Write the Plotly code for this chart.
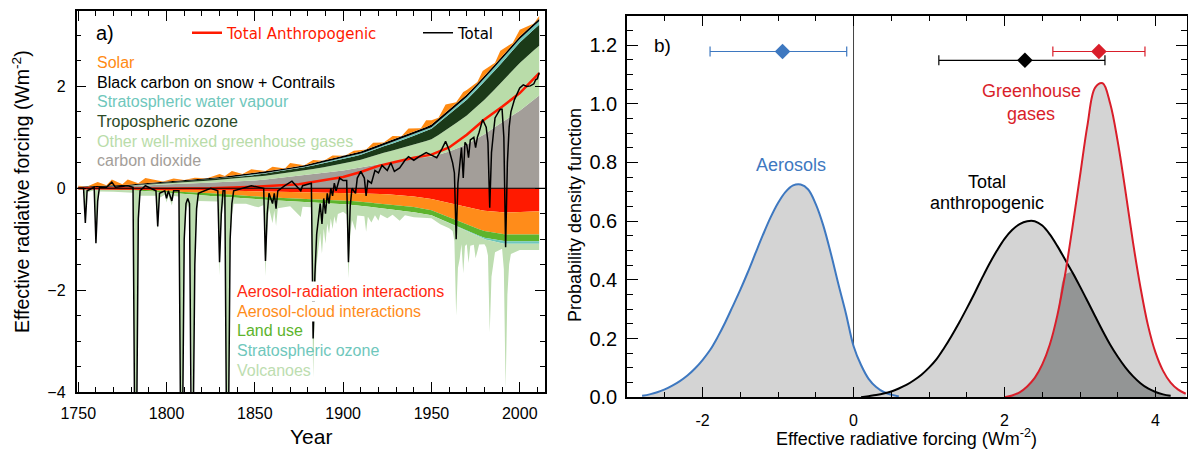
import plotly.graph_objects as go

W, H = 1188, 449

# ---------------- Panel a) data ----------------
years = [1750, 1775, 1800, 1825, 1850, 1875, 1900, 1910, 1920, 1930, 1940, 1950,
         1960, 1970, 1980, 1990, 2000, 2011]
co2 = [0.00, 0.03, 0.08, 0.11, 0.15, 0.24, 0.35, 0.41, 0.47, 0.53, 0.59, 0.62,
       0.72, 0.86, 1.06, 1.30, 1.52, 1.82]
other_ghg = [0.005, 0.005, 0.02, 0.04, 0.07, 0.09, 0.13, 0.15, 0.20, 0.23, 0.27, 0.34,
             0.46, 0.57, 0.68, 0.79, 0.94, 0.98]
trop_o3 = [0.005, 0.005, 0.01, 0.02, 0.04, 0.06, 0.09, 0.10, 0.12, 0.14, 0.17, 0.21,
           0.27, 0.31, 0.35, 0.38, 0.40, 0.41]
strat_h2o = [0.0, 0.0, 0.01, 0.01, 0.01, 0.01, 0.02, 0.02, 0.02, 0.03, 0.03, 0.03,
             0.04, 0.05, 0.06, 0.07, 0.07, 0.07]
bc_contrails = [0.02, 0.02, 0.02, 0.02, 0.03, 0.03, 0.04, 0.04, 0.04, 0.04, 0.04, 0.05,
                0.05, 0.05, 0.05, 0.05, 0.05, 0.05]
aer_rad = [0.0, -0.005, -0.02, -0.04, -0.07, -0.09, -0.10, -0.10, -0.11, -0.13, -0.16, -0.21,
           -0.29, -0.38, -0.44, -0.48, -0.46, -0.45]
aer_cloud = [0.0, -0.01, -0.03, -0.06, -0.10, -0.11, -0.14, -0.16, -0.19, -0.20, -0.21, -0.22,
             -0.28, -0.34, -0.40, -0.43, -0.45, -0.46]
land_use = [0.0, -0.01, -0.03, -0.05, -0.05, -0.06, -0.07, -0.08, -0.09, -0.10, -0.10, -0.10,
            -0.11, -0.12, -0.13, -0.13, -0.13, -0.13]
strat_o3 = [0.0, 0.0, 0.0, 0.0, 0.0, 0.0, 0.0, 0.0, 0.0, 0.0, 0.0, 0.0,
            -0.005, -0.01, -0.03, -0.05, -0.05, -0.05]
total_anthro = [0.0, -0.01, -0.01, 0.0, 0.03, 0.08, 0.22, 0.32, 0.44, 0.52, 0.60, 0.66,
                0.80, 1.05, 1.35, 1.60, 1.87, 2.26]

solar_years = [1750, 1755, 1761, 1766, 1769, 1775, 1778, 1784, 1788, 1798, 1804, 1810,
               1816, 1823, 1830, 1833, 1837, 1843, 1848, 1856, 1860, 1867, 1870, 1878,
               1883, 1889, 1894, 1901, 1906, 1913, 1917, 1923, 1928, 1933, 1937, 1944,
               1947, 1954, 1958, 1964, 1968, 1976, 1979, 1986, 1989, 1996, 2000, 2008, 2011]
solar = [0.02, 0.0, 0.08, 0.01, 0.12, 0.02, 0.10, 0.01, 0.10, 0.0, 0.04, 0.0,
         0.03, 0.0, 0.06, 0.01, 0.09, 0.01, 0.08, 0.01, 0.07, 0.0, 0.09, 0.0,
         0.06, 0.0, 0.06, 0.0, 0.05, 0.0, 0.08, 0.01, 0.08, 0.01, 0.11, 0.02,
         0.13, 0.02, 0.16, 0.03, 0.11, 0.03, 0.14, 0.03, 0.15, 0.03, 0.13, 0.0, 0.05]

volc_years = [1750, 1753, 1754, 1755, 1759, 1760, 1761, 1762, 1770, 1781, 1782, 1783, 1784, 1785,
              1794, 1795, 1796, 1799, 1800, 1801, 1803, 1804, 1807, 1808, 1809, 1810, 1811,
              1812, 1813, 1814, 1815, 1816, 1817, 1818, 1829, 1830, 1831, 1832, 1833, 1834,
              1835, 1836, 1837, 1838, 1845, 1852, 1855, 1856, 1857, 1858, 1860, 1861, 1862,
              1863, 1870, 1876, 1877, 1882, 1883, 1884, 1885, 1886, 1887, 1888, 1889, 1890,
              1891, 1892, 1893, 1894, 1895, 1896, 1897, 1900, 1902, 1903, 1904, 1905, 1907,
              1908, 1912, 1913, 1914, 1916, 1918, 1920, 1921, 1925, 1928, 1932, 1935, 1940,
              1950, 1955, 1960, 1962, 1963, 1964, 1965, 1966, 1967, 1968, 1969, 1970, 1971,
              1972, 1974, 1975, 1976, 1977, 1980, 1981, 1982, 1983, 1984, 1985, 1986, 1990,
              1991, 1992, 1993, 1994, 1995, 2000, 2005, 2011]
volcanic = [-0.03, -0.03, -0.65, -0.08, -0.03, -1.05, -0.3, -0.05, -0.05, -0.05, -5.0, -5.0, -0.6, -0.1,
            -0.08, -0.75, -0.12, -0.05, -0.2, -0.06, -0.25, -0.06, -0.06, -5.0, -5.0, -1.0, -0.35,
            -0.2, -0.3, -5.0, -5.0, -1.5, -0.4, -0.12, -0.1, -1.55, -0.5, -0.12, -0.3, -5.0,
            -5.0, -1.0, -0.35, -0.12, -0.1, -0.15, -0.1, -1.5, -0.6, -0.15, -0.45, -0.2, -0.5,
            -0.15, -0.1, -0.3, -0.1, -0.1, -3.45, -2.0, -1.2, -0.9, -0.6, -1.0, -0.5, -0.8,
            -0.4, -0.6, -0.3, -0.5, -0.25, -0.4, -0.2, -0.15, -0.2, -1.45, -0.6, -0.3, -0.5,
            -0.2, -0.2, -0.5, -0.2, -0.3, -0.15, -0.25, -0.12, -0.18, -0.1, -0.2, -0.08, -0.1,
            -0.06, -0.1, -0.1, -0.12, -0.3, -1.75, -0.8, -0.6, -0.3, -0.85, -0.3, -0.25, -0.6,
            -0.25, -0.2, -0.45, -0.3, -0.15, -0.1, -0.15, -0.3, -1.8, -0.7, -0.4, -0.2, -0.1,
            -0.5, -2.85, -1.0, -0.4, -0.2, -0.12, -0.12, -0.12]

total_years = [1750, 1753, 1754, 1755, 1759, 1760, 1761, 1762, 1766, 1769, 1771, 1778, 1781,
               1782, 1783, 1784, 1785, 1788, 1794, 1795, 1796, 1799, 1800, 1801, 1803, 1804,
               1807, 1808, 1809, 1810, 1811, 1812, 1813, 1814, 1815, 1816, 1817, 1818, 1825,
               1829, 1830, 1831, 1832, 1833, 1834, 1835, 1836, 1837, 1838, 1848, 1855, 1856,
               1857, 1858, 1860, 1861, 1862, 1863, 1867, 1871, 1876, 1877, 1882, 1883, 1884,
               1885, 1886, 1887, 1888, 1889, 1890, 1891, 1892, 1893, 1894, 1895, 1896, 1898,
               1900, 1902, 1903, 1904, 1905, 1907, 1908, 1910, 1912, 1913, 1914, 1916, 1918,
               1920, 1922, 1925, 1927, 1929, 1932, 1935, 1937, 1940, 1943, 1947, 1950, 1953,
               1956, 1958, 1960, 1962, 1963, 1964, 1965, 1966, 1967, 1968, 1969, 1970, 1971,
               1972, 1974, 1975, 1976, 1977, 1979, 1981, 1982, 1983, 1984, 1985, 1986, 1988,
               1989, 1990, 1991, 1992, 1993, 1994, 1995, 1997, 2000, 2002, 2004, 2006, 2008,
               2009, 2010, 2011]
total = [0.0, 0.0, -0.68, -0.05, 0.02, -1.08, -0.25, 0.02, 0.02, 0.12, 0.02, 0.05, 0.02,
         -5.0, -5.0, -0.6, -0.05, 0.05, -0.05, -0.75, -0.1, -0.05, -0.2, -0.05, -0.25, -0.05,
         -0.05, -5.0, -5.0, -1.0, -0.3, -0.2, -0.3, -5.0, -5.0, -1.5, -0.4, -0.1, 0.0,
         -0.05, -1.45, -0.5, -0.05, -0.05, -5.0, -5.0, -1.0, -0.3, -0.05, 0.05, 0.0, -1.43,
         -0.5, -0.1, -0.3, -0.1, -0.4, -0.05, 0.05, 0.14, -0.05, 0.05, 0.1, -2.95, -1.7,
         -0.9, -0.6, -0.3, -0.7, -0.2, -0.5, -0.1, -0.3, 0.0, -0.15, 0.1, -0.05, 0.2,
         0.15, 0.15, -1.45, -0.35, 0.0, -0.1, 0.2, 0.33, 0.2, -0.15, 0.15, 0.1, 0.35,
         0.3, 0.45, 0.35, 0.5, 0.33, 0.4, 0.55, 0.62, 0.55, 0.62, 0.7, 0.65, 0.6,
         0.78, 0.92, 0.75, 0.5, 0.3, -1.0, 0.1, 0.45, 0.8, 0.2, 0.9, 0.85, 0.6,
         0.95, 1.0, 0.8, 1.0, 1.1, 1.35, 1.2, 0.9, -0.38, 0.7, 1.05, 1.38, 1.5,
         1.55, 1.55, 1.0, -1.16, 0.5, 1.2, 1.5, 1.74, 1.97, 2.03, 2.0, 2.01, 2.05,
         2.13, 2.15, 2.27]

# ---------------- Panel b) data ----------------
pdf_dx = 0.1
aerosol_start = -2.8
aerosol_pdf = [0.005, 0.01, 0.017, 0.027, 0.04, 0.055, 0.074, 0.098, 0.127, 0.161, 0.205,
               0.255, 0.31, 0.366, 0.426, 0.49, 0.553, 0.612, 0.662, 0.70, 0.722, 0.725,
               0.708, 0.658, 0.585, 0.49, 0.385, 0.285, 0.175, 0.11, 0.063, 0.035, 0.018,
               0.009, 0.003]
anthro_start = 0.1
anthro_pdf = [0.0, 0.004, 0.008, 0.013, 0.02, 0.03, 0.042, 0.058, 0.077, 0.101, 0.13, 0.168,
              0.21, 0.255, 0.303, 0.353, 0.405, 0.455, 0.50, 0.54, 0.57, 0.59, 0.6, 0.6, 0.585,
              0.555, 0.515, 0.47, 0.425, 0.377, 0.327, 0.276, 0.226, 0.179, 0.138, 0.102,
              0.072, 0.048, 0.03, 0.018, 0.01, 0.005]
ghg_start = 2.0
ghg_pdf = [0.0, 0.006, 0.017, 0.037, 0.066, 0.112, 0.18, 0.28, 0.415, 0.58, 0.755, 0.93,
           1.055, 1.07, 1.0, 0.87, 0.705, 0.53, 0.375, 0.245, 0.152, 0.09, 0.05, 0.026, 0.012]

best = {"aerosol": -0.94, "anthro": 2.27, "ghg": 3.25}
low = {"aerosol": -1.90, "anthro": 1.13, "ghg": 2.64}
high = {"aerosol": -0.09, "anthro": 3.33, "ghg": 3.86}
bar_y = {"aerosol": 1.178, "anthro": 1.148, "ghg": 1.178}


def grid(start, n):
    return [round(start + i * pdf_dx, 2) for i in range(n)]


aer_x = grid(aerosol_start, len(aerosol_pdf))
ant_x = grid(anthro_start, len(anthro_pdf))
ghg_x = grid(ghg_start, len(ghg_pdf))
ant_map = dict(zip(ant_x, anthro_pdf))
ov_x = [x for x in ghg_x if x in ant_map]
ov_y = [min(ant_map[x], g) for x, g in zip(ghg_x, ghg_pdf) if x in ant_map]

# ---------------- colours ----------------
C_CO2 = "#A39E99"
C_OGHG = "#B9DCA9"
C_TO3 = "#1B3A18"
C_SH2O = "#6FC7BC"
C_SOLAR = "#FF8A12"
C_ARAD = "#FF1A00"
C_ACLD = "#FF8C1A"
C_LU = "#5DB42C"
C_SO3 = "#6FC7BC"
C_VOLC = "#BDDDB0"
C_BLUE = "#3E78C0"
C_RED = "#D91E2A"

FONT = "Liberation Sans"

fig = go.Figure()


def stack(x, y, color, group):
    fig.add_trace(go.Scatter(
        x=x, y=y, stackgroup=group, mode="lines", line=dict(width=0, color=color),
        fillcolor=color, stackgaps="interpolate", showlegend=False, hoverinfo="skip",
        xaxis="x", yaxis="y"))


stack(years, co2, C_CO2, "pos")
stack(years, other_ghg, C_OGHG, "pos")
stack(years, trop_o3, C_TO3, "pos")
stack(years, strat_h2o, C_SH2O, "pos")
stack(years, bc_contrails, "#000000", "pos")
stack(solar_years, solar, C_SOLAR, "pos")

stack(years, aer_rad, C_ARAD, "neg")
stack(years, aer_cloud, C_ACLD, "neg")
stack(years, land_use, C_LU, "neg")
stack(years, strat_o3, C_SO3, "neg")
stack(volc_years, volcanic, C_VOLC, "neg")

fig.add_trace(go.Scatter(
    x=years, y=total_anthro, mode="lines", line=dict(color="#FF1A00", width=2.5),
    name="<span style='color:#FF1A00'>Total Anthropogenic</span>", xaxis="x", yaxis="y",
    hoverinfo="skip"))
fig.add_trace(go.Scatter(
    x=total_years, y=total, mode="lines", line=dict(color="#000000", width=1.5),
    name="Total", xaxis="x", yaxis="y", hoverinfo="skip"))

# ---- panel b traces ----
for xs, ys in [(aer_x, aerosol_pdf), (ant_x, anthro_pdf), (ghg_x, ghg_pdf)]:
    fig.add_trace(go.Scatter(x=xs, y=ys, mode="lines", fill="tozeroy",
                             fillcolor="#D4D4D4", line=dict(width=0, color="#D4D4D4"),
                             line_shape="spline", showlegend=False, hoverinfo="skip",
                             xaxis="x2", yaxis="y2"))
fig.add_trace(go.Scatter(x=ov_x, y=ov_y, mode="lines", fill="tozeroy",
                         fillcolor="#939595", line=dict(width=0, color="#939595"),
                         line_shape="spline", showlegend=False, hoverinfo="skip",
                         xaxis="x2", yaxis="y2"))
for xs, ys, c in [(aer_x, aerosol_pdf, C_BLUE), (ant_x, anthro_pdf, "#000000"),
                  (ghg_x, ghg_pdf, C_RED)]:
    fig.add_trace(go.Scatter(x=xs, y=ys, mode="lines", line=dict(width=2, color=c),
                             line_shape="spline", showlegend=False, hoverinfo="skip",
                             xaxis="x2", yaxis="y2"))
for k, c in [("aerosol", C_BLUE), ("anthro", "#000000"), ("ghg", C_RED)]:
    fig.add_trace(go.Scatter(
        x=[best[k]], y=[bar_y[k]], mode="markers",
        marker=dict(symbol="diamond", size=12, color=c),
        error_x=dict(type="data", symmetric=False, array=[high[k] - best[k]],
                     arrayminus=[best[k] - low[k]], color=c, thickness=1.2, width=5),
        showlegend=False, hoverinfo="skip", xaxis="x2", yaxis="y2"))


# ---------------- layout ----------------
def px(v):
    return v / W


def py(v):
    return 1 - v / H


axis_common = dict(showline=True, linecolor="black", linewidth=1.5, mirror="allticks",
                   ticks="inside", tickcolor="black", tickwidth=1.2, showgrid=False,
                   zeroline=False, automargin=False)

fig.update_layout(
    template="none",
    width=W, height=H, margin=dict(l=0, r=0, t=0, b=0, pad=0, autoexpand=False),
    paper_bgcolor="white", plot_bgcolor="white",
    font=dict(family=FONT, color="black"),
    xaxis=dict(domain=[px(76.5), px(545)], range=[1749, 2014.3], tick0=1750, dtick=50,
               ticklen=10, tickfont=dict(size=16), ticklabelstandoff=6,
               minor=dict(dtick=10, ticklen=5, ticks="inside", tickcolor="black"),
               anchor="y", **axis_common),
    yaxis=dict(domain=[py(392), py(11)], range=[-4, 3.48], tick0=0, dtick=2,
               ticklen=10, tickfont=dict(size=16), ticklabelstandoff=6,
               minor=dict(dtick=0.5, ticklen=5, ticks="inside", tickcolor="black"),
               anchor="x", **axis_common),
    xaxis2=dict(domain=[px(627), px(1186.5)], range=[-3.0, 4.41],
                tickvals=[-2, 0, 2, 4], ticktext=["-2", "0", "2", "4"],
                ticklen=11, tickfont=dict(size=16), ticklabelstandoff=8,
                minor=dict(dtick=0.5, tick0=0, ticklen=6, ticks="inside", tickcolor="black"),
                anchor="y2", **axis_common),
    yaxis2=dict(domain=[py(397.3), py(15.7)], range=[0, 1.3], tick0=0, dtick=0.2,
                tickformat=".1f", ticklen=11, tickfont=dict(size=20), ticklabelstandoff=4,
                minor=dict(dtick=0.05, ticklen=6, ticks="inside", tickcolor="black"),
                anchor="x2", **axis_common),
    legend=dict(orientation="h", x=px(187), y=py(33), xanchor="left", yanchor="middle",
                font=dict(family="DejaVu Sans", size=15), bgcolor="rgba(0,0,0,0)",
                itemwidth=30, entrywidth=186, entrywidthmode="pixels",
                traceorder="normal"),
    shapes=[
        dict(type="line", xref="x domain", yref="y", x0=0, x1=1, y0=0, y1=0,
             line=dict(color="black", width=1.2), layer="above"),
        dict(type="line", xref="x2", yref="y2 domain", x0=0, x1=0, y0=0, y1=1,
             line=dict(color="#444444", width=1), layer="below"),
    ],
)

ann = []


def text(x, y, s, color="black", size=16, anchor="left", family=FONT, bg=None, angle=0):
    d = dict(xref="paper", yref="paper", x=px(x), y=py(y), text=s, showarrow=False,
             xanchor=anchor, yanchor="middle", textangle=angle,
             font=dict(family=family, size=size, color=color))
    if bg:
        d.update(bgcolor=bg, borderpad=1)
    ann.append(d)


text(94, 33, "a)", size=20)
legend_top = [("Solar", C_SOLAR), ("Black carbon on snow + Contrails", "black"),
              ("Stratospheric water vapour", C_SH2O), ("Tropospheric ozone", "#2B4A26"),
              ("Other well-mixed greenhouse gases", C_OGHG), ("carbon dioxide", C_CO2)]
for i, (s, c) in enumerate(legend_top):
    text(95, 63 + i * 19.5, s, color=c, size=16)
legend_bot = [("Aerosol-radiation interactions", "#FF2A10", "white"),
              ("Aerosol-cloud interactions", C_ACLD, "white"),
              ("Land use", C_LU, None), ("Stratospheric ozone", C_SO3, None),
              ("Volcanoes", C_VOLC, None)]
for i, (s, c, bg) in enumerate(legend_bot):
    text(235, 291.5 + i * 19.7, s, color=c, size=16, bg=bg)

text(21, 192, "Effective radiative forcing (Wm<sup>-2</sup>)", size=19.5, anchor="center",
     angle=-90)
text(311, 436, "Year", size=21, anchor="center")

text(652, 46, "b)", size=19)
text(791, 165, "Aerosols", color=C_BLUE, size=18, anchor="center")
text(1031, 91, "Greenhouse", color=C_RED, size=18, anchor="center")
text(1031, 114, "gases", color=C_RED, size=18, anchor="center")
text(987, 182, "Total", size=18, anchor="center")
text(987, 203, "anthropogenic", size=18, anchor="center")
text(575, 215, "Probability density function", size=18, anchor="center", angle=-90)
text(906, 437, "Effective radiative forcing (Wm<sup>-2</sup>)", size=18, anchor="center")

fig.update_layout(annotations=ann)
fig.write_html("out.html")
